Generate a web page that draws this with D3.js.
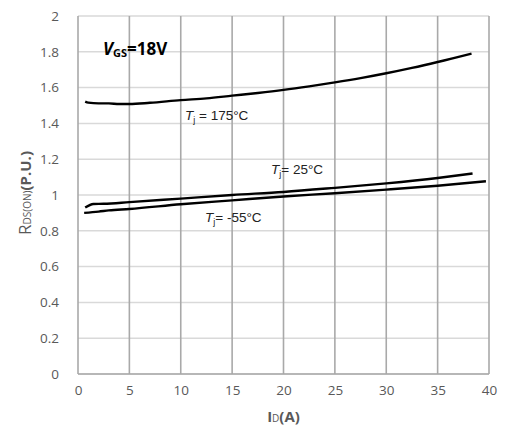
<!DOCTYPE html>
<html>
<head>
<meta charset="utf-8">
<script src="https://cdn.jsdelivr.net/npm/d3@7"></script>
<style>
  body { margin: 0; background: #fff; }
  .tick text, .axis-title { font-family: "Open Sans", "Liberation Sans", sans-serif; }
</style>
</head>
<body>
<script>
// readings, I_D in A, R_DS(on) in P.U.
const curr175 = [0.7, 1, 2, 3, 4, 5, 7, 10, 12.5, 15, 17.5, 20, 22.5, 25, 27.5, 30, 32.5, 35, 38.3];
const rds175 = [1.522, 1.516, 1.512, 1.512, 1.508, 1.508, 1.515, 1.53, 1.54, 1.555, 1.57, 1.587, 1.607, 1.629, 1.653, 1.68, 1.71, 1.743, 1.79];

const curr25 = [0.7, 1.5, 2.5, 5, 10, 15, 20, 25, 30, 35, 38.4];
const rds25 = [0.93, 0.95, 0.951, 0.96, 0.98, 1.0, 1.017, 1.04, 1.065, 1.095, 1.12];

const currM55 = [0.6, 2, 3, 5, 10, 15, 20, 25, 30, 35, 39.7];
const rdsM55 = [0.9, 0.907, 0.914, 0.922, 0.948, 0.97, 0.992, 1.01, 1.03, 1.052, 1.077];

const xTicks = [0, 5, 10, 15, 20, 25, 30, 35, 40];
const yTicks = [0, 0.2, 0.4, 0.6, 0.8, 1, 1.2, 1.4, 1.6, 1.8, 2];

const width = 505, height = 433;
const plot = { left: 78, right: 489, top: 16, bottom: 374 };

const svg = d3.select('body').append('svg')
    .attr('width', width)
    .attr('height', height);

const x = d3.scaleLinear().domain([0, 40]).range([plot.left, plot.right]);
const y = d3.scaleLinear().domain([0, 2]).range([plot.bottom, plot.top]);

// horizontal grid
svg.append('g')
    .selectAll('line')
    .data(yTicks)
    .enter()
    .append('line')
    .attr('x1', plot.left).attr('x2', plot.right)
    .attr('y1', d => y(d)).attr('y2', d => y(d))
    .attr('stroke', '#d9d9d9')
    .attr('stroke-width', 1.5);

// vertical grid
svg.append('g')
    .selectAll('line')
    .data(xTicks)
    .enter()
    .append('line')
    .attr('x1', d => x(d)).attr('x2', d => x(d))
    .attr('y1', plot.top).attr('y2', plot.bottom)
    .attr('stroke', '#a9a9a9')
    .attr('stroke-width', 1.6);

svg.append('line')
    .attr('x1', plot.left).attr('x2', plot.right)
    .attr('y1', plot.bottom).attr('y2', plot.bottom)
    .attr('stroke', '#a9a9a9')
    .attr('stroke-width', 1.6);

// axes, labels only
const xAxis = svg.append('g')
    .attr('transform', `translate(0,${plot.bottom + 8})`)
    .call(d3.axisBottom(x).tickValues(xTicks).tickSize(0).tickFormat(d3.format('d')));
xAxis.select('.domain').remove();
xAxis.selectAll('text')
    .attr('fill', '#595959')
    .style('font-size', '13.5px');

const yAxis = svg.append('g')
    .attr('transform', `translate(${plot.left - 16},0)`)
    .call(d3.axisLeft(y).tickValues(yTicks).tickSize(0).tickFormat(d => d3.format('')(+d.toFixed(1))));
yAxis.select('.domain').remove();
yAxis.selectAll('text')
    .attr('fill', '#595959')
    .style('font-size', '13.5px');

// curves
const line = d3.line()
    .x(d => x(d[0]))
    .y(d => y(d[1]))
    .curve(d3.curveMonotoneX);

[[curr175, rds175], [curr25, rds25], [currM55, rdsM55]].forEach(([xs, ys]) => {
    svg.append('path')
        .datum(xs.map((v, i) => [v, ys[i]]))
        .attr('d', line)
        .attr('fill', 'none')
        .attr('stroke', '#000')
        .attr('stroke-width', 2.4);
});

// curve labels
function tjLabel(px, py, rest) {
    const t = svg.append('text')
        .attr('x', px).attr('y', py)
        .attr('font-family', '"Liberation Sans", Arial, sans-serif')
        .attr('font-size', 13.5)
        .attr('fill', '#222');
    t.append('tspan').attr('font-style', 'italic').text('T');
    t.append('tspan').attr('dy', 3).attr('font-size', 9).text('j');
    t.append('tspan').attr('dy', -3).text(rest);
}
tjLabel(185, 120, ' = 175°C');
tjLabel(271, 174, '= 25°C');
tjLabel(205, 222, '= -55°C');

// VGS annotation
const vgs = svg.append('text')
    .attr('x', 103).attr('y', 55)
    .attr('font-family', '"Open Sans", sans-serif')
    .attr('font-weight', 'bold')
    .attr('font-size', 17)
    .attr('fill', '#000');
vgs.append('tspan').attr('font-style', 'italic').text('V');
vgs.append('tspan').attr('dy', 2).attr('font-size', 11).text('GS');
vgs.append('tspan').attr('dy', -2).text('=18V');

// axis titles
const xt = svg.append('text')
    .attr('class', 'axis-title')
    .attr('x', x(20)).attr('y', 422)
    .attr('text-anchor', 'middle')
    .attr('fill', '#595959')
    .attr('font-weight', 'bold')
    .attr('font-size', 15);
xt.append('tspan').text('I');
xt.append('tspan').attr('font-size', 10).attr('font-weight', 'normal').text('D');
xt.append('tspan').text('(A)');

const yt = svg.append('text')
    .attr('class', 'axis-title')
    .attr('transform', 'translate(31,193) rotate(-90)')
    .attr('text-anchor', 'middle')
    .attr('fill', '#595959')
    .attr('font-weight', 'bold')
    .attr('font-size', 15);
yt.append('tspan').attr('font-size', 17).attr('font-weight', 'normal').text('R');
yt.append('tspan').attr('font-size', 10).attr('font-weight', 'normal').text('DS(ON)');
yt.append('tspan').text('(P.U.)');
</script>
</body>
</html>
